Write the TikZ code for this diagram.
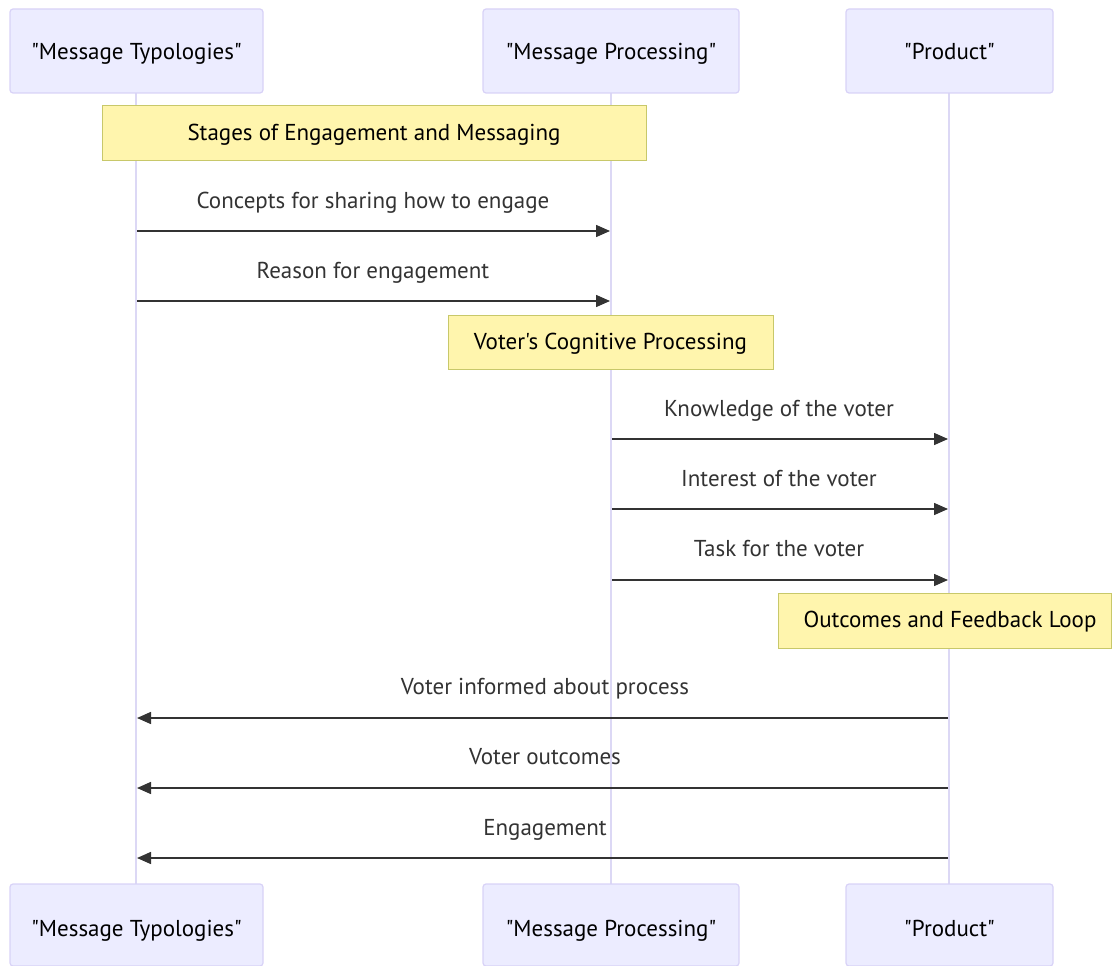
\documentclass[tikz,border=0pt]{standalone}
\usepackage{fontspec}
\setmainfont{PT Sans}[Ligatures=TeXOff]
\usetikzlibrary{arrows.meta}
\definecolor{actfill}{HTML}{ECECFF}
\definecolor{actline}{HTML}{D8D2F7}
\definecolor{lifeline}{HTML}{DCD8F5}
\definecolor{notefill}{HTML}{FFF5AD}
\definecolor{noteline}{HTML}{C8C86A}
\definecolor{msgcol}{HTML}{333333}
\tikzset{
  txt/.style={font=\fontsize{23}{26}\selectfont, inner sep=0pt, anchor=base},
  actor/.style={draw=actline, line width=1.2pt, fill=actfill, rounded corners=3pt},
  actortext/.style={txt, text=black},
  notebox/.style={draw=noteline, line width=1pt, fill=notefill},
  notetext/.style={txt, text=black},
  msg/.style={draw=msgcol, line width=1.5pt, -{Triangle[length=14pt,width=12pt]}},
  msglabel/.style={txt, text=msgcol},
  life/.style={draw=lifeline, line width=2pt}
}
\begin{document}
\begin{tikzpicture}[x=1pt,y=-1pt]
\useasboundingbox (0,0) rectangle (1112,966);
% lifelines
\coordinate (L1t) at (136,93); \coordinate (L1b) at (136,884);
\coordinate (L2t) at (611,93); \coordinate (L2b) at (611,884);
\coordinate (L3t) at (949,93); \coordinate (L3b) at (949,884);
\draw[life] (L1t) -- (L1b);
\draw[life] (L2t) -- (L2b);
\draw[life] (L3t) -- (L3b);
% actors top
\draw[actor] (10,9) rectangle (263,93);
\node[actortext] (a1) at (136.5,60) {"Message Typologies"};
\draw[actor] (483,9) rectangle (739,93);
\node[actortext] (a2) at (611,60) {"Message Processing"};
\draw[actor] (846,9) rectangle (1053,93);
\node[actortext] (a3) at (949.5,60) {"Product"};
% actors bottom
\draw[actor] (10,884) rectangle (263,966);
\node[actortext] (b1) at (136.5,936) {"Message Typologies"};
\draw[actor] (483,884) rectangle (739,966);
\node[actortext] (b2) at (611,936) {"Message Processing"};
\draw[actor] (846,884) rectangle (1053,966);
\node[actortext] (b3) at (949.5,936) {"Product"};
% notes
\draw[notebox] (102,106) rectangle (646,160);
\node[notetext] (n1) at (374,140) {Stages of Engagement and Messaging};
\draw[notebox] (448,315) rectangle (773,369);
\node[notetext] (n2) at (610.5,349) {Voter's Cognitive Processing};
\draw[notebox] (778,593) rectangle (1111,648);
\node[notetext] (n3) at (950,627) {Outcomes and Feedback Loop};
% message coordinates
\coordinate (m1s) at (137,231); \coordinate (m1e) at (610,231);
\coordinate (m2s) at (137,301); \coordinate (m2e) at (610,301);
\coordinate (m3s) at (612,439); \coordinate (m3e) at (948,439);
\coordinate (m4s) at (612,509); \coordinate (m4e) at (948,509);
\coordinate (m5s) at (612,580); \coordinate (m5e) at (948,580);
\coordinate (m6s) at (948,718); \coordinate (m6e) at (137,718);
\coordinate (m7s) at (948,788); \coordinate (m7e) at (137,788);
\coordinate (m8s) at (948,858); \coordinate (m8e) at (137,858);
\draw[msg] (m1s) -- (m1e);
\draw[msg] (m2s) -- (m2e);
\draw[msg] (m3s) -- (m3e);
\draw[msg] (m4s) -- (m4e);
\draw[msg] (m5s) -- (m5e);
\draw[msg] (m6s) -- (m6e);
\draw[msg] (m7s) -- (m7e);
\draw[msg] (m8s) -- (m8e);
\node[msglabel] (t1) at (373,208) {Concepts for sharing how to engage};
\node[msglabel] (t2) at (373,278) {Reason for engagement};
\node[msglabel] (t3) at (779,416) {Knowledge of the voter};
\node[msglabel] (t4) at (779,486) {Interest of the voter};
\node[msglabel] (t5) at (779,556) {Task for the voter};
\node[msglabel] (t6) at (545,694) {Voter informed about process};
\node[msglabel] (t7) at (545,764) {Voter outcomes};
\node[msglabel] (t8) at (545,835) {Engagement};
\end{tikzpicture}
\end{document}
